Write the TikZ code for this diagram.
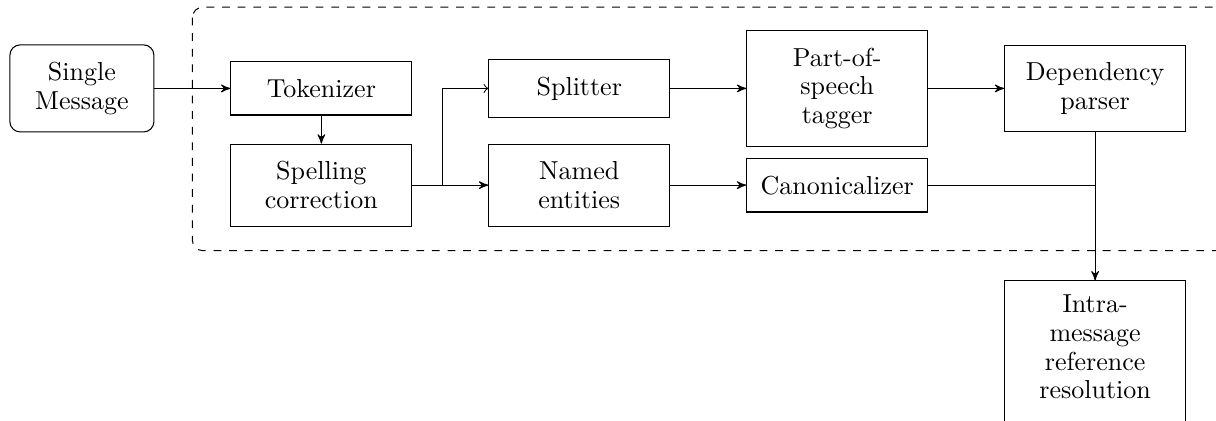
\documentclass[tikz,border=0pt]{standalone}
\usetikzlibrary{positioning,calc,arrows}

\begin{document}
\begin{tikzpicture}[every node/.style={font=\fontsize{10}{11}\selectfont},
   stage/.style={draw, text width=59.5pt, align=center, inner xsep=5.05pt, inner ysep=6.7pt},
   source/.style={draw, rounded corners, text width=48.4pt, align=center, inner xsep=3.5pt, inner ysep=6.7pt},
   pipe/.style={->, >=stealth'},
   node distance=10.8pt and 29.2pt]

\useasboundingbox (0,0) rectangle (467.7pt,-161.9pt);

% upper row
\node[source] (msg) at (31.5pt,-34pt) {Single\\Message};
\node[stage, right=of msg] (tok) {Tokenizer};
\node[stage, right=of tok] (split) {Splitter};
\node[stage, right=of split] (pos) {Part-of-\\speech\\tagger};
\node[stage, right=of pos] (dep) {Dependency\\parser};

% lower row
\node[stage, below=of tok] (spell) {Spelling\\correction};
\node[stage, right=of spell] (named) {Named\\entities};
\node[stage, right=of named] (canon) {Canonicalizer};

\node[stage, below=57pt of dep, inner ysep=5.5pt] (intra)
   {Intra-\\message\\reference\\resolution\rule[-6pt]{0pt}{6pt}};

% pipeline frame
\draw[dashed, rounded corners] ($(tok.west |- pos.north)+(-14.6pt,8.8pt)$)
   rectangle ($(dep.east |- spell.south)+(40pt,-9.2pt)$);

\draw[pipe] (msg) -- (tok);
\draw[pipe] (tok) -- (spell);
\coordinate[right=11.5pt of spell.east] (fork);
\draw (spell) -- (fork);
\draw[pipe] (fork) -- (named);
\draw[->] (fork) |- (split);
\draw[pipe] (split) -- (pos);
\draw[pipe] (named) -- (canon);
\draw[pipe] (pos) -- (dep);
\coordinate (merge) at (dep |- canon);
\draw (canon) -- (merge);
\draw[pipe] (dep) -- (intra);

\end{tikzpicture}
\end{document}
